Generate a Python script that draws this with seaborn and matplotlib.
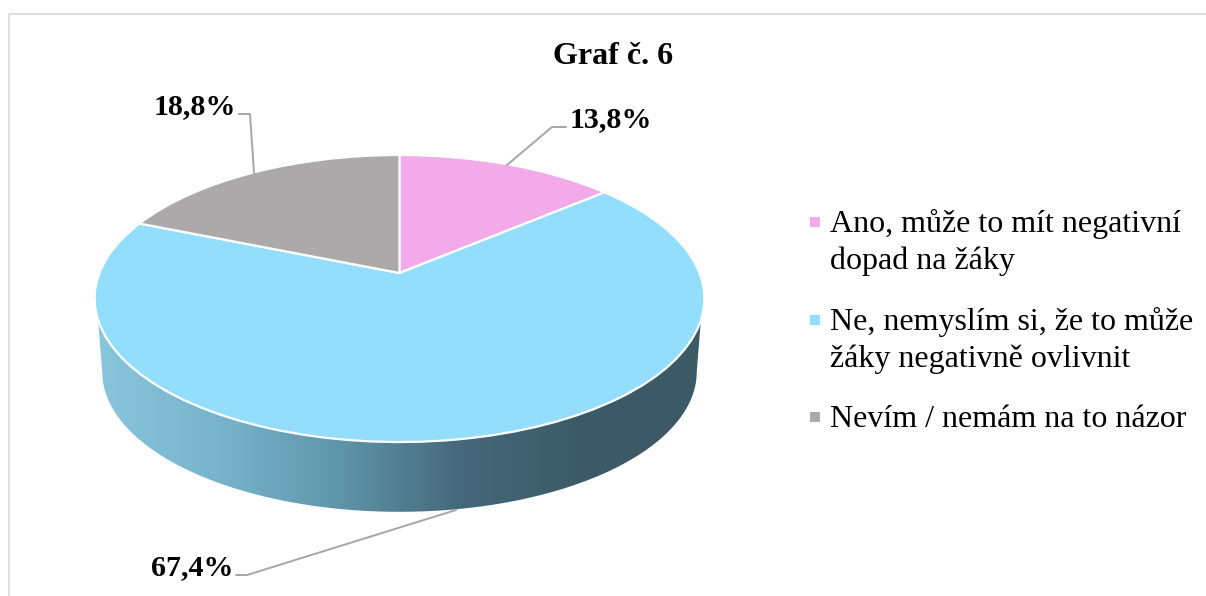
import numpy as np
import seaborn as sns
import matplotlib.pyplot as plt
from matplotlib.colors import LinearSegmentedColormap
from matplotlib.patches import Polygon
from matplotlib.transforms import Transform

# data
categories = ['Ano, může to mít negativní\ndopad na žáky',
              'Ne, nemyslím si, že to může\nžáky negativně ovlivnit',
              'Nevím / nemám na to názor']
values = [13.8, 67.4, 18.8]
title = 'Graf č. 6'

colors = sns.color_palette(['#F2AAE8', '#93DEFC', '#ABA9AA'])
wall_colors = ['#88C6DE', '#78B4CC', '#5F95AA', '#45687A', '#3C5A66', '#3C5A66']

sns.set_theme(style='white')
plt.rcParams['font.family'] = ['Liberation Serif', 'DejaVu Serif']

W, H = 1206, 596
CX, CY = 399.5, 273   # where the slices meet, in pixels
RX, RY, K = 300, 139, 0.1777  # tilt of the disc


class Tilt(Transform):
    # puts the unit pie on the tilted disc, pixels of the figure
    input_dims = 2
    output_dims = 2
    is_affine = False

    def __init__(self, cx=CX, cy=CY, scale=1.0):
        super().__init__()
        self.cx, self.cy, self.scale = cx, cy, scale

    def transform_non_affine(self, xy):
        xy = np.asarray(xy, dtype=float)
        d = 1 + K * xy[:, 1]
        return np.column_stack([self.cx + self.scale * RX * xy[:, 0] / d,
                                self.cy - self.scale * RY * xy[:, 1] / d])


fig = plt.figure(figsize=(W / 100, H / 100), dpi=100)
ax = fig.add_axes([0, 0, 1, 1])

wedges, _ = ax.pie(values, colors=colors, startangle=90, counterclock=False,
                   wedgeprops={'edgecolor': 'white', 'linewidth': 1.6})
top = Tilt()
for w in wedges:
    w.set_transform(top + ax.transData)
    w.set_zorder(3)

# side of the pie, only the big slice shows there
def front_arc(tilt, y_from):
    a = np.arcsin(y_from)
    t = np.linspace(a, -np.pi - a, 200)
    return tilt.transform_non_affine(np.column_stack([np.cos(t), np.sin(t)]))


upper = front_arc(top, -0.319)
lower = front_arc(Tilt(CX, 347, 0.975), -0.178)
wall = Polygon(np.vstack([upper, lower[::-1]]), closed=True, transform=ax.transData,
               facecolor='none', edgecolor='none')
ax.add_patch(wall)
cmap = LinearSegmentedColormap.from_list('wall', wall_colors)
img = ax.imshow(np.linspace(0, 1, 256)[None, :], cmap=cmap, aspect='auto',
                extent=(96, 704, 520, 310), zorder=1)
img.set_clip_path(wall)

ax.set_aspect('auto')
ax.set_xlim(0, W)
ax.set_ylim(H, 0)
ax.axis('off')

# frame of the chart area
ax.plot([8.5, 8.5, W], [H, 13.5, 13.5], color='#D9D9D9', lw=1.2, zorder=1)

ax.text(613.5, 64, title, ha='center', va='baseline', fontsize=23, fontweight='bold', color='black')

# percent labels with leader lines
label_pos = [(570, 127), (151, 575), (154, 114)]
leaders = [([507, 552, 566], [165, 127, 127]),
           ([456, 247, 236], [510, 575, 575]),
           ([254, 250, 239], [173, 114, 114])]
for v, pos, (lx, ly) in zip(values, label_pos, leaders):
    ax.plot(lx, ly, color='#A6A6A6', lw=1.4, zorder=4)
    ax.text(pos[0], pos[1], f'{v:.1f}%'.replace('.', ','), ha='left', va='baseline',
            fontsize=21.6, fontweight='bold', color='black')

# legend
legend_y = [232, 330, 427]
for cat, col, y in zip(categories, colors, legend_y):
    ax.scatter([815], [y - 10], marker='s', s=52, color=[col], linewidths=0, zorder=4)
    for i, line in enumerate(cat.split('\n')):
        ax.text(830, y + i * 37, line, ha='left', va='baseline', fontsize=23, color='black')

fig.savefig('out.png', dpi=100)
